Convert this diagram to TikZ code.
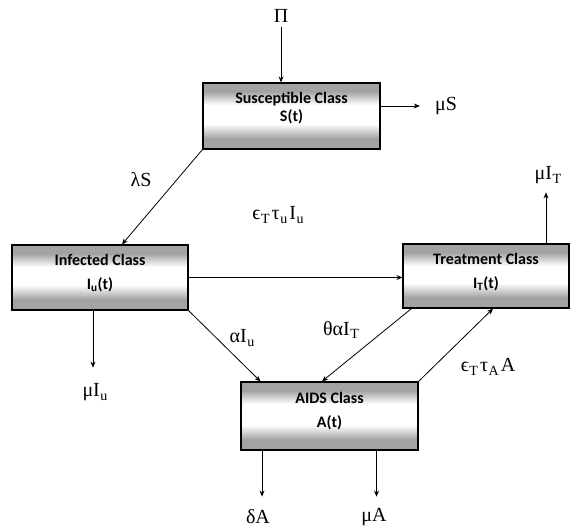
\documentclass[tikz,border=0pt]{standalone}
\usepackage{fontspec}
\setmainfont{Liberation Serif}
\newfontfamily\boxfont{Carlito}
\usetikzlibrary{arrows.meta,calc}
\newcommand{\lsub}[1]{\kern0.6pt\raisebox{-0.4ex}{\fontsize{14}{14}\selectfont #1}\kern2pt}
\colorlet{bandgray}{gray!72}
\begin{document}
\begin{tikzpicture}[x=1pt,y=-1pt,
  comp/.style={draw=black,line width=1.2pt,minimum width=177pt,minimum height=66pt,inner sep=0pt,
    path picture={
      \fill[white] (path picture bounding box.south west) rectangle (path picture bounding box.north east);
      \fill[bandgray] (path picture bounding box.north west) rectangle ([yshift=-9pt]path picture bounding box.north east);
      \shade[top color=bandgray,bottom color=white] ([yshift=-8.5pt]path picture bounding box.north west) rectangle ([yshift=-22pt]path picture bounding box.north east);
      \fill[bandgray] (path picture bounding box.south west) rectangle ([yshift=11pt]path picture bounding box.south east);
      \shade[top color=white,bottom color=bandgray] ([yshift=25pt]path picture bounding box.south west) rectangle ([yshift=10.5pt]path picture bounding box.south east);}},
  btxt/.style={font=\boxfont\bfseries\fontsize{16}{19}\selectfont,inner sep=0pt},
  lab/.style={font=\fontsize{20}{24}\selectfont,inner sep=1pt},
  flow/.style={line width=0.8pt,-{Stealth[length=6pt,width=5pt]}}]
\useasboundingbox (0,0) rectangle (571,530);

% compartments
\node[comp] (S) at (291.5,116) {};
\node[comp,minimum width=176pt,minimum height=65pt] (I) at (100,277.5) {};
\node[comp,minimum width=166pt,minimum height=64pt] (T) at (486,276) {};
\node[comp,minimum height=68pt] (A) at (329.5,416) {};

% compartment texts
\node[btxt] (St1) at ([yshift=-17]S.north) {Susceptible Class};
\node[btxt] (St2) at ([yshift=-34]S.north) {S(t)};
\node[btxt] (It1) at ([yshift=-16]I.north) {Infected Class};
\node[btxt] (It2) at ([yshift=-40]I.north) {I\textsubscript{u}(t)};
\node[btxt] (Tt1) at ([yshift=-16]T.north) {Treatment Class};
\node[btxt] (Tt2) at ([yshift=-40]T.north) {I\textsubscript{T}(t)};
\node[btxt] (At1) at ([yshift=-17]A.north) {AIDS Class};
\node[btxt] (At2) at ([yshift=-41]A.north) {A(t)};

% rate labels
\node[lab] (pi) at (281,16) {Π};
\node[lab] (muS) at (446,106) {μS};
\node[lab] (lamS) at (141,180) {λS};
\node[lab] (eps) at (279,215) {ϵ\lsub{T}τ\lsub{u}I\lsub{u}};
\node[lab] (muIT) at (549,175) {μI\lsub{T}};
\node[lab] (alI) at (243,338) {αI\lsub{u}};
\node[lab] (thI) at (342,330) {θαI\lsub{T}};
\node[lab] (epsA) at (488,367) {ϵ\lsub{T}τ\lsub{A}A};
\node[lab] (muIu) at (96,392) {μI\lsub{u}};
\node[lab] (dA) at (258,517) {δA};
\node[lab] (muA) at (374,517) {μA};

% flows
\draw[flow] ([yshift=-3]pi.south) -- (pi.south |- S.north);
\draw[flow] (S.east |- muS) -- ([xshift=-14]muS.west);
\draw[flow] (S.south west) -- ([xshift=22]I.north);
\draw[flow] (I.east) -- (I.east -| T.west);
\draw[flow] (I.south east) -- ([xshift=-69]A.north);
\draw[flow] ([xshift=9]T.south west) -- ([xshift=-7.5]A.north);
\draw[flow] (A.north east) -- ([xshift=7]T.south);
\draw[flow] ([xshift=60]T.north) -- ([xshift=60,yshift=51]T.north);
\draw[flow] ([xshift=-7]I.south) -- ([xshift=-7,yshift=-57]I.south);
\draw[flow] ([xshift=-67.5]A.south) -- ([xshift=-67.5,yshift=-46]A.south);
\draw[flow] ([xshift=47]A.south) -- ([xshift=47,yshift=-46]A.south);
\end{tikzpicture}
\end{document}
